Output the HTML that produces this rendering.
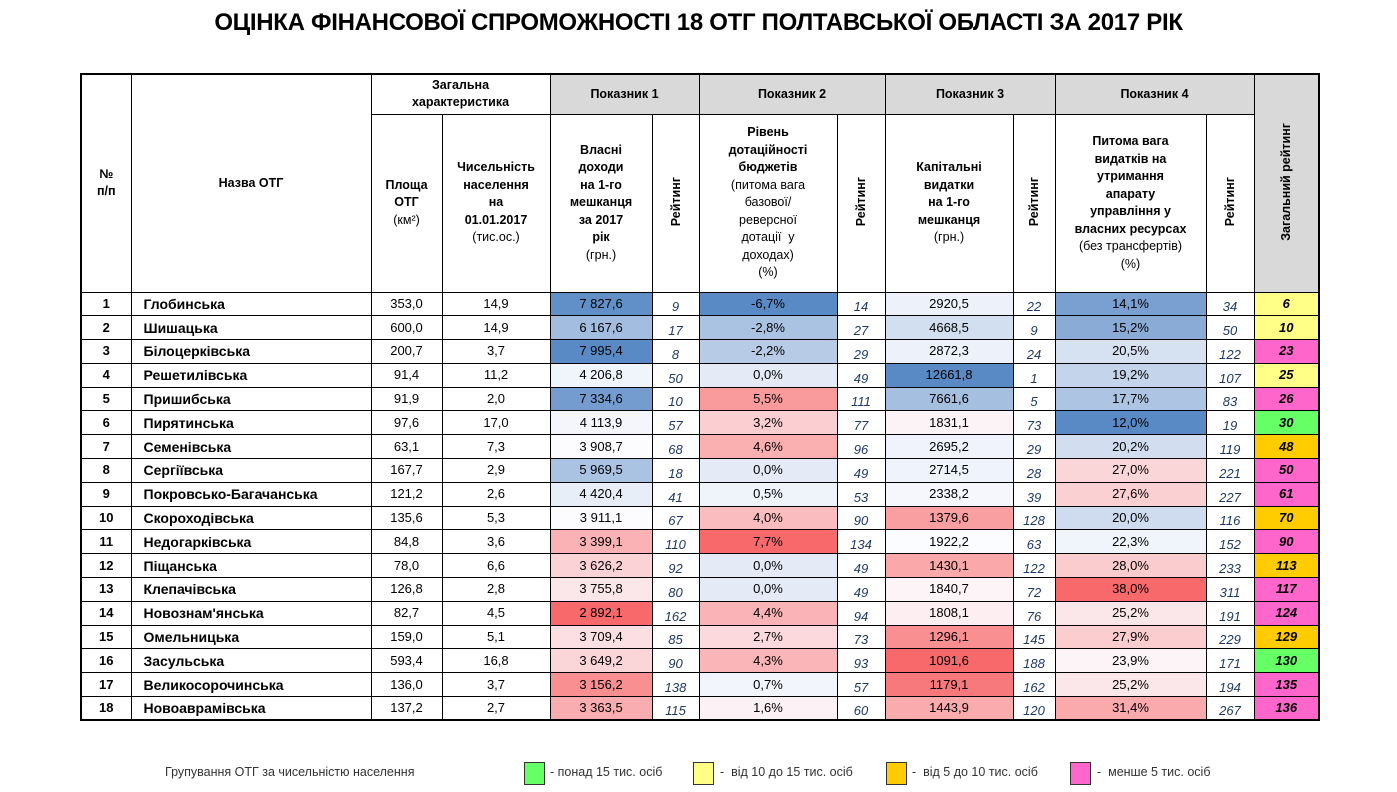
<!DOCTYPE html>
<html><head><meta charset="utf-8">
<style>
body{margin:0;width:1397px;height:792px;background:#fff;font-family:"Liberation Sans",sans-serif;position:relative;overflow:hidden}
.title{position:absolute;left:0;width:1397px;top:9px;text-align:center;font-weight:bold;font-size:24px;letter-spacing:-0.3px}
table{position:absolute;left:80px;top:73px;border-collapse:collapse;table-layout:fixed;border:2px solid #000}
td{border:1px solid #000;padding:0;text-align:center;font-size:13px;overflow:hidden;white-space:nowrap}
.h{font-weight:bold;font-size:12.5px;line-height:17.5px;white-space:normal}
.n{font-weight:normal}
.g{background:#d9d9d9}
.v{writing-mode:vertical-rl;transform:rotate(180deg);display:inline-block;font-weight:bold;font-size:12.5px}
tr.d{height:23.8px}
tr.d td{height:22.8px;line-height:16px;box-sizing:border-box}
.r{font-style:italic;color:#1f3864;vertical-align:bottom}
.f{font-weight:bold;font-style:italic}
.nm{text-align:left;padding-left:12px;font-weight:bold;font-size:14px}
.no{font-weight:bold}
.leg{position:absolute;top:765px;font-size:12.5px;color:#333}
.box{position:absolute;top:762px;width:19px;height:21px;border:1px solid #333}
</style></head><body>
<div class="title">ОЦІНКА ФІНАНСОВОЇ СПРОМОЖНОСТІ 18 ОТГ ПОЛТАВСЬКОЇ ОБЛАСТІ ЗА 2017 РІК</div>
<table id="t">
<colgroup><col style="width:50px"><col style="width:240px"><col style="width:71px"><col style="width:108px"><col style="width:102px"><col style="width:47px"><col style="width:138px"><col style="width:48px"><col style="width:128px"><col style="width:42px"><col style="width:151px"><col style="width:48px"><col style="width:65px"></colgroup>
<tr style="height:40px">
<td rowspan="2" class="h">№<br>п/п</td>
<td rowspan="2" class="h">Назва ОТГ</td>
<td colspan="2" class="h">Загальна<br>характеристика</td>
<td colspan="2" class="h g">Показник 1</td>
<td colspan="2" class="h g">Показник 2</td>
<td colspan="2" class="h g">Показник 3</td>
<td colspan="2" class="h g">Показник 4</td>
<td rowspan="2" class="g"><span class="v">Загальний рейтинг</span></td>
</tr>
<tr style="height:178px">
<td class="h">Площа<br>ОТГ<br><span class="n">(км²)</span></td>
<td class="h">Чисельність<br>населення<br>на<br>01.01.2017<br><span class="n">(тис.ос.)</span></td>
<td class="h">Власні<br>доходи<br>на 1-го<br>мешканця<br>за 2017<br>рік<br><span class="n">(грн.)</span></td>
<td><span class="v">Рейтинг</span></td>
<td class="h">Рівень<br>дотаційності<br>бюджетів<br><span class="n">(питома вага<br>базової/<br>реверсної<br>дотації &nbsp;у<br>доходах)<br>(%)</span></td>
<td><span class="v">Рейтинг</span></td>
<td class="h">Капітальні<br>видатки<br>на 1-го<br>мешканця<br><span class="n">(грн.)</span></td>
<td><span class="v">Рейтинг</span></td>
<td class="h">Питома вага<br>видатків на<br>утримання<br>апарату<br>управління у<br>власних ресурсах<br><span class="n">(без трансфертів)<br>(%)</span></td>
<td><span class="v">Рейтинг</span></td>
</tr>
</table>
<div class="leg" style="left:165px">Групування ОТГ за чисельністю населення</div>
<div class="box" style="left:524px;background:#66ff66"></div><div class="leg" style="left:550px">- понад 15 тис. осіб</div>
<div class="box" style="left:693px;background:#ffff88"></div><div class="leg" style="left:720px">- &nbsp;від 10 до 15 тис. осіб</div>
<div class="box" style="left:886px;background:#ffcc00"></div><div class="leg" style="left:912px">- &nbsp;від 5 до 10 тис. осіб</div>
<div class="box" style="left:1070px;background:#ff66cc"></div><div class="leg" style="left:1097px">- &nbsp;менше 5 тис. осіб</div>
<script>
var D=[
[1,"Глобинська","353,0","14,9","7 827,6",9,"-6,7%",14,"2920,5",22,"14,1%",34,6,"y"],
[2,"Шишацька","600,0","14,9","6 167,6",17,"-2,8%",27,"4668,5",9,"15,2%",50,10,"y"],
[3,"Білоцерківська","200,7","3,7","7 995,4",8,"-2,2%",29,"2872,3",24,"20,5%",122,23,"m"],
[4,"Решетилівська","91,4","11,2","4 206,8",50,"0,0%",49,"12661,8",1,"19,2%",107,25,"y"],
[5,"Пришибська","91,9","2,0","7 334,6",10,"5,5%",111,"7661,6",5,"17,7%",83,26,"m"],
[6,"Пирятинська","97,6","17,0","4 113,9",57,"3,2%",77,"1831,1",73,"12,0%",19,30,"g"],
[7,"Семенівська","63,1","7,3","3 908,7",68,"4,6%",96,"2695,2",29,"20,2%",119,48,"o"],
[8,"Сергіївська","167,7","2,9","5 969,5",18,"0,0%",49,"2714,5",28,"27,0%",221,50,"m"],
[9,"Покровсько-Багачанська","121,2","2,6","4 420,4",41,"0,5%",53,"2338,2",39,"27,6%",227,61,"m"],
[10,"Скороходівська","135,6","5,3","3 911,1",67,"4,0%",90,"1379,6",128,"20,0%",116,70,"o"],
[11,"Недогарківська","84,8","3,6","3 399,1",110,"7,7%",134,"1922,2",63,"22,3%",152,90,"m"],
[12,"Піщанська","78,0","6,6","3 626,2",92,"0,0%",49,"1430,1",122,"28,0%",233,113,"o"],
[13,"Клепачівська","126,8","2,8","3 755,8",80,"0,0%",49,"1840,7",72,"38,0%",311,117,"m"],
[14,"Новознам'янська","82,7","4,5","2 892,1",162,"4,4%",94,"1808,1",76,"25,2%",191,124,"m"],
[15,"Омельницька","159,0","5,1","3 709,4",85,"2,7%",73,"1296,1",145,"27,9%",229,129,"o"],
[16,"Засульська","593,4","16,8","3 649,2",90,"4,3%",93,"1091,6",188,"23,9%",171,130,"g"],
[17,"Великосорочинська","136,0","3,7","3 156,2",138,"0,7%",57,"1179,1",162,"25,2%",194,135,"m"],
[18,"Новоаврамівська","137,2","2,7","3 363,5",115,"1,6%",60,"1443,9",120,"31,4%",267,136,"m"]];
function num(s){return parseFloat(s.replace(/\s/g,"").replace("%","").replace(",","."))}
function med(a){a=a.slice().sort(function(x,y){return x-y});var n=a.length;return (a[n/2-1]+a[n/2])/2}
var R=[248,105,107],W=[252,252,255],B=[90,138,198];
function mix(a,b,t){return "rgb("+a.map(function(v,i){return Math.round(v+(b[i]-v)*t)}).join(",")+")"}
function scale(col,highBlue){var v=D.map(function(r){return num(r[col])});var mn=Math.min.apply(0,v),mx=Math.max.apply(0,v),md=med(v);
return v.map(function(x){var lowC=highBlue?R:B,highC=highBlue?B:R;if(x<=md)return mix(lowC,W,(x-mn)/(md-mn));return mix(W,highC,(x-md)/(mx-md));});}
var c1=scale(4,true),c2=scale(6,false),c3=scale(8,true),c4=scale(10,false);
var GC={g:"#66ff66",y:"#ffff88",o:"#ffcc00",m:"#ff66cc"};
var t=document.getElementById("t"),h="";
D.forEach(function(r,i){
h+='<tr class="d"><td class="no">'+r[0]+'</td><td class="nm">'+r[1]+'</td><td>'+r[2]+'</td><td>'+r[3]+'</td>'+
'<td style="background:'+c1[i]+'">'+r[4]+'</td><td class="r">'+r[5]+'</td>'+
'<td style="background:'+c2[i]+'">'+r[6]+'</td><td class="r">'+r[7]+'</td>'+
'<td style="background:'+c3[i]+'">'+r[8]+'</td><td class="r">'+r[9]+'</td>'+
'<td style="background:'+c4[i]+'">'+r[10]+'</td><td class="r">'+r[11]+'</td>'+
'<td class="f" style="background:'+GC[r[13]]+'">'+r[12]+'</td></tr>';});
t.insertAdjacentHTML("beforeend",h);
</script>
</body></html>
